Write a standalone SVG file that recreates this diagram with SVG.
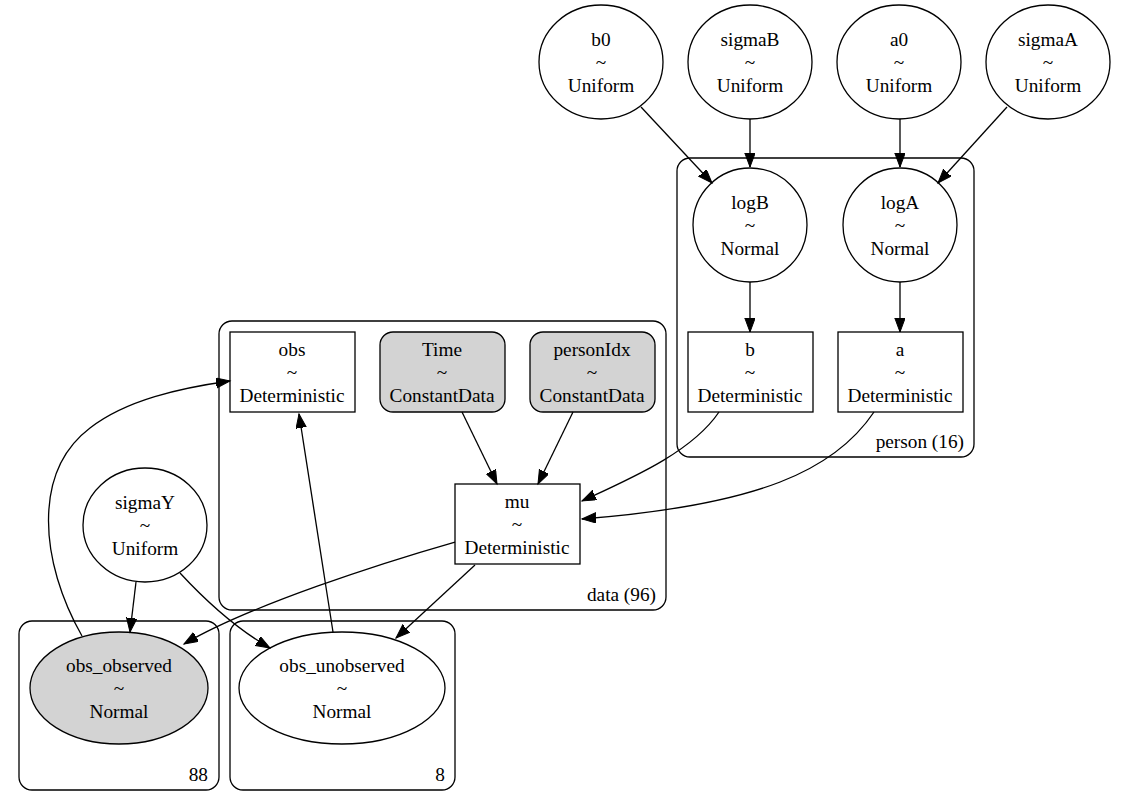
<svg xmlns="http://www.w3.org/2000/svg" width="1123" height="800" viewBox="0 0 1123 800">
<style>
text{font-family:"Liberation Serif","Times New Roman",serif;font-size:19.3px;fill:#000;text-anchor:middle}
.lbl{text-anchor:end}
.node{fill:#fff;stroke:#000;stroke-width:1.3}
.obsd{fill:#d3d3d3;stroke:#000;stroke-width:1.3}
.cl{fill:none;stroke:#000;stroke-width:1.3}
.e{fill:none;stroke:#000;stroke-width:1.3;marker-end:url(#ah)}
</style>
<defs>
<marker id="ah" markerUnits="userSpaceOnUse" markerWidth="16" markerHeight="12" refX="14" refY="5.2" orient="auto">
<path d="M0,0 L14,5.2 L0,10.4 z" fill="#000" stroke="#000" stroke-width="1"/>
</marker>
</defs>
<rect width="1123" height="800" fill="#fff"/>
<g id="clusters">
<g id="cluster_person"><rect class="cl" x="677" y="158" width="297" height="299" rx="13"/><text class="lbl" x="964" y="448">person (16)</text></g>
<g id="cluster_data"><rect class="cl" x="219" y="321" width="447" height="289" rx="13"/><text class="lbl" x="656" y="601">data (96)</text></g>
<g id="cluster_88"><rect class="cl" x="19" y="621" width="200" height="169" rx="13"/><text class="lbl" x="208" y="781">88</text></g>
<g id="cluster_8"><rect class="cl" x="230" y="621" width="225" height="169" rx="13"/><text class="lbl" x="445" y="781">8</text></g>
</g>
<g id="b0"><ellipse class="node" cx="601" cy="62" rx="62" ry="57"/><text x="601" y="46">b0</text><text x="601" y="69">~</text><text x="601" y="92">Uniform</text></g>
<g id="sigmaB"><ellipse class="node" cx="750" cy="62" rx="62" ry="57"/><text x="750" y="46">sigmaB</text><text x="750" y="69">~</text><text x="750" y="92">Uniform</text></g>
<g id="a0"><ellipse class="node" cx="899" cy="62" rx="62" ry="57"/><text x="899" y="46">a0</text><text x="899" y="69">~</text><text x="899" y="92">Uniform</text></g>
<g id="sigmaA"><ellipse class="node" cx="1048" cy="62" rx="62" ry="57"/><text x="1048" y="46">sigmaA</text><text x="1048" y="69">~</text><text x="1048" y="92">Uniform</text></g>
<g id="logB"><ellipse class="node" cx="750" cy="225" rx="57" ry="57"/><text x="750" y="209">logB</text><text x="750" y="232">~</text><text x="750" y="255">Normal</text></g>
<g id="logA"><ellipse class="node" cx="900" cy="225" rx="57" ry="57"/><text x="900" y="209">logA</text><text x="900" y="232">~</text><text x="900" y="255">Normal</text></g>
<g id="b"><rect class="node" x="688" y="332" width="125" height="80"/><text x="750" y="356">b</text><text x="750" y="379">~</text><text x="750" y="402">Deterministic</text></g>
<g id="a"><rect class="node" x="838" y="332" width="125" height="80"/><text x="900" y="356">a</text><text x="900" y="379">~</text><text x="900" y="402">Deterministic</text></g>
<g id="obs"><rect class="node" x="230" y="332" width="125" height="80"/><text x="292" y="356">obs</text><text x="292" y="379">~</text><text x="292" y="402">Deterministic</text></g>
<g id="Time"><rect class="obsd" x="380" y="332" width="125" height="80" rx="13"/><text x="442" y="356">Time</text><text x="442" y="379">~</text><text x="442" y="402">ConstantData</text></g>
<g id="personIdx"><rect class="obsd" x="530" y="332" width="125" height="80" rx="13"/><text x="592" y="356">personIdx</text><text x="592" y="379">~</text><text x="592" y="402">ConstantData</text></g>
<g id="mu"><rect class="node" x="455" y="484" width="125" height="80"/><text x="517" y="508">mu</text><text x="517" y="531">~</text><text x="517" y="554">Deterministic</text></g>
<g id="sigmaY"><ellipse class="node" cx="145" cy="525" rx="62" ry="57"/><text x="145" y="509">sigmaY</text><text x="145" y="532">~</text><text x="145" y="555">Uniform</text></g>
<g id="obs_observed"><ellipse class="obsd" cx="119" cy="688" rx="89" ry="56"/><text x="119" y="672">obs_observed</text><text x="119" y="695">~</text><text x="119" y="718">Normal</text></g>
<g id="obs_unobserved"><ellipse class="node" cx="342" cy="688" rx="103" ry="56"/><text x="342" y="672">obs_unobserved</text><text x="342" y="695">~</text><text x="342" y="718">Normal</text></g>
<g id="edges">
<path class="e" d="M641,107 L712,183"/>
<path class="e" d="M750,119 L750,167"/>
<path class="e" d="M900,119 L900,167"/>
<path class="e" d="M1007,107 L938,183"/>
<path class="e" d="M750,282 L750,332"/>
<path class="e" d="M900,282 L900,332"/>
<path class="e" d="M719,412 C692,452 632,478 582,501"/>
<path class="e" d="M874,412 C835,470 760,505 582,519"/>
<path class="e" d="M462,412 L497,484"/>
<path class="e" d="M573,412 L538,484"/>
<path class="e" d="M455,542 C385,562 250,605 184,644"/>
<path class="e" d="M475,565 L396,638"/>
<path class="e" d="M136,582 L130,632"/>
<path class="e" d="M180,573 C205,600 235,628 270,648"/>
<path class="e" d="M82,636 C40,562 32,472 90,428 C126,400 180,388 230,381"/>
<path class="e" d="M333,632 L299,414"/>
</g>
</svg>
